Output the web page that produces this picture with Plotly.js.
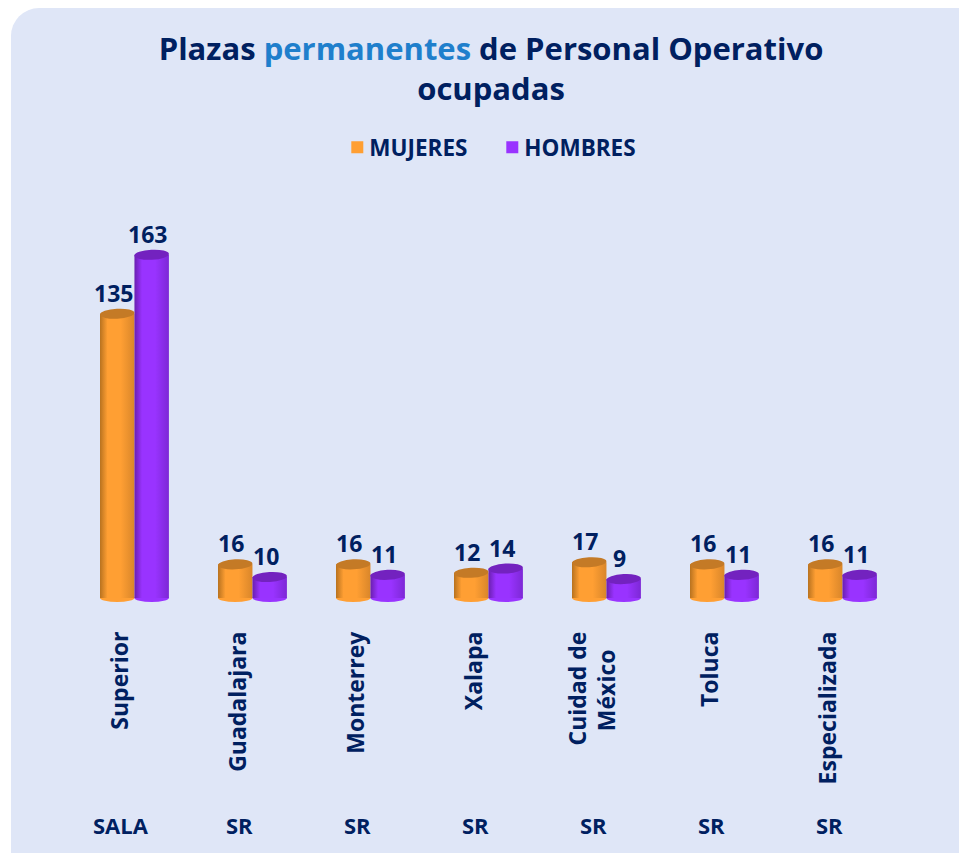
<!DOCTYPE html>
<html>
<head>
<meta charset="utf-8">
<script src="https://cdn.plot.ly/plotly-3.0.1.min.js"></script>
<style>
html,body{margin:0;padding:0;width:959px;height:853px;overflow:hidden;background:#fff}
#card{position:absolute;left:11px;top:8px;width:990px;height:900px;border-radius:28px;background:#DFE6F7}
#chart{position:absolute;left:0;top:0;width:959px;height:853px}
</style>
</head>
<body>
<div id="card"></div>
<div id="chart"></div>
<script>
var categories = ['Superior','Guadalajara','Monterrey','Xalapa','Cuidad de México','Toluca','Especializada'];
var tickLabels = ['Superior','Guadalajara','Monterrey','Xalapa','Cuidad de<br>México\u00a0\u00a0\u00a0','Toluca','Especializada'];
var groups = ['SALA','SR','SR','SR','SR','SR','SR'];
var mujeres = [135,16,16,12,17,16,16];
var hombres = [163,10,11,14,9,11,11];

var NAVY='#002060', FONT='"Open Sans", Lato, sans-serif';
var ORANGE='#FF9F33', PURPLE='#9933FF', CAP_O='#C47A26', CAP_P='#7322BF';
var BASE_O='#FF9F34', BASE_P='#9934FF';
var W=0.292, OFF_M=-0.178, OFF_H=0.114;

function bar(name,vals,color,off){
  return {type:'bar',name:name,x:categories,y:vals,width:W,offset:off,
    marker:{color:color,line:{width:0}},hoverinfo:'x+y',cliponaxis:false};
}
var data=[bar('MUJERES',mujeres,ORANGE,OFF_M),bar('HOMBRES',hombres,PURPLE,OFF_H)];

var shapes=[],annotations=[];
function addSeries(vals,off,capCol,baseCol,lblShift){
  vals.forEach(function(v,i){
    var x0=i+off,x1=i+off+W;
    shapes.push({type:'circle',layer:'below',xref:'x',yref:'y',ysizemode:'pixel',yanchor:0,
      x0:x0,x1:x1,y0:-4,y1:4,fillcolor:baseCol,line:{width:0}});
    shapes.push({type:'circle',layer:'above',xref:'x',yref:'y',ysizemode:'pixel',yanchor:v,
      x0:x0,x1:x1,y0:-5,y1:5,fillcolor:capCol,line:{width:0}});
    annotations.push({xref:'x',yref:'y',x:i+off+W/2,y:v,text:String(v),showarrow:false,
      xanchor:'center',yanchor:'middle',xshift:lblShift,yshift:21,
      font:{family:FONT,size:23,color:NAVY,weight:700}});
  });
}
addSeries(mujeres,OFF_M,CAP_O,BASE_O,-4);
addSeries(hombres,OFF_H,CAP_P,BASE_P,-4);
groups.forEach(function(g,i){
  annotations.push({xref:'x',yref:'paper',x:i,y:-0.509,text:g,showarrow:false,
    xanchor:'center',yanchor:'middle',font:{family:FONT,size:22,color:NAVY,weight:700}});
});

var layout={
  width:959,height:853,autosize:false,showlegend:true,
  paper_bgcolor:'rgba(0,0,0,0)',plot_bgcolor:'rgba(0,0,0,0)',
  margin:{l:62,r:71,t:160,b:249,pad:0},
  barmode:'overlay',
  font:{family:FONT,color:NAVY},
  title:{text:'<b>Plazas <span style="color:#1F7FCC">permanentes</span> de Personal Operativo<br>ocupadas</b>',
    x:491/959,xanchor:'center',xref:'container',y:0.93,yanchor:'top',
    font:{family:FONT,size:31,color:NAVY}},
  legend:{orientation:'h',x:0.505,xanchor:'center',xref:'container',y:0.852,yref:'container',yanchor:'top',
    entrywidth:110,entrywidthmode:'pixels',
    font:{family:FONT,size:22.5,color:NAVY,weight:700},bgcolor:'rgba(0,0,0,0)',itemclick:false,itemdoubleclick:false},
  xaxis:{type:'category',range:[-0.5,6.5],tickvals:categories,ticktext:tickLabels,tickangle:-90,
    ticks:'',showline:false,showgrid:false,zeroline:false,ticklabelstandoff:22,fixedrange:true,automargin:false,
    tickfont:{family:FONT,size:23,color:NAVY,weight:700}},
  yaxis:{visible:false,range:[-2.84,203.6],showgrid:false,zeroline:false,fixedrange:true},
  shapes:shapes,annotations:annotations
};

function gradient(defs,id,dark,mid,edge){
  var ns='http://www.w3.org/2000/svg';
  var g=document.createElementNS(ns,'linearGradient');
  g.setAttribute('id',id);g.setAttribute('x1','0');g.setAttribute('x2','1');g.setAttribute('y1','0');g.setAttribute('y2','0');
  [[0,dark],[0.22,mid],[0.6,mid],[1,edge]].forEach(function(s){
    var st=document.createElementNS(ns,'stop');st.setAttribute('offset',s[0]);st.setAttribute('stop-color',s[1]);g.appendChild(st);
  });
  defs.appendChild(g);
}
function tilt(p){
  p.style.transformBox='fill-box';p.style.transformOrigin='center';p.style.transform='rotate(-3deg)';
}
Plotly.newPlot('chart',data,layout,{displayModeBar:false}).then(function(gd){
  var svg=gd.querySelector('.main-svg');
  var defs=svg.querySelector('defs');
  gradient(defs,'gradO','#B8721F','#FF9F33','#D9862A');
  gradient(defs,'gradP','#6A1FB0','#9933FF','#7D28D6');
  var traces=gd.querySelectorAll('.barlayer .trace');
  traces[0].querySelectorAll('path').forEach(function(p){p.style.fill='url(#gradO)';});
  traces[1].querySelectorAll('path').forEach(function(p){p.style.fill='url(#gradP)';});
  gd.querySelectorAll('.layer-below .shapelayer path').forEach(function(p){
    var f=p.style.fill;
    p.style.fill = f.indexOf('255, 159')>=0 ? 'url(#gradO)' : 'url(#gradP)';
    tilt(p);
  });
  gd.querySelectorAll('.layer-above .shapelayer path').forEach(tilt);
  gd.querySelectorAll('.legend .legendpoints').forEach(function(g){g.setAttribute('transform','translate(8,0)');});
});
</script>
</body>
</html>
